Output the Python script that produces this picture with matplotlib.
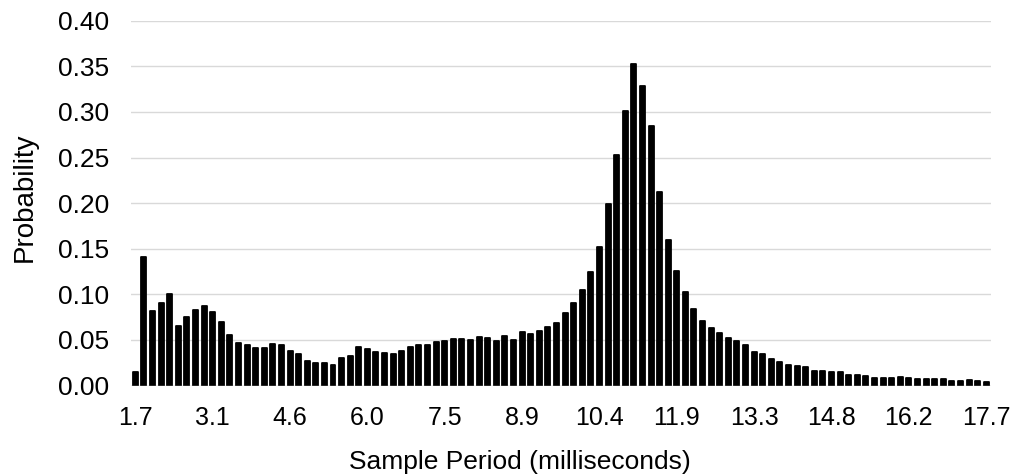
import numpy as np
import matplotlib.pyplot as plt

plt.rcParams['font.family'] = ['Liberation Sans', 'DejaVu Sans']

# probability per sample-period bin (100 bins, 1.7 ms .. 17.7 ms)
probability = [
    0.015, 0.141, 0.082, 0.091, 0.100, 0.065, 0.075, 0.083, 0.087, 0.081,
    0.070, 0.055, 0.047, 0.044, 0.041, 0.041, 0.045, 0.044, 0.038, 0.035,
    0.027, 0.025, 0.025, 0.023, 0.030, 0.032, 0.042, 0.040, 0.037, 0.036,
    0.035, 0.038, 0.042, 0.044, 0.044, 0.048, 0.049, 0.051, 0.051, 0.050,
    0.053, 0.052, 0.049, 0.054, 0.050, 0.059, 0.056, 0.060, 0.064, 0.068,
    0.079, 0.090, 0.105, 0.125, 0.152, 0.199, 0.253, 0.301, 0.352, 0.328,
    0.285, 0.212, 0.160, 0.126, 0.103, 0.084, 0.071, 0.063, 0.058, 0.052,
    0.049, 0.044, 0.037, 0.035, 0.029, 0.026, 0.023, 0.021, 0.020, 0.016,
    0.016, 0.015, 0.015, 0.012, 0.012, 0.010, 0.008, 0.008, 0.008, 0.009,
    0.008, 0.007, 0.007, 0.007, 0.007, 0.005, 0.005, 0.006, 0.005, 0.004,
]
tick_labels = ['1.7', '3.1', '4.6', '6.0', '7.5', '8.9', '10.4',
               '11.9', '13.3', '14.8', '16.2', '17.7']
label_every = 9
y_ticks = [0.00, 0.05, 0.10, 0.15, 0.20, 0.25, 0.30, 0.35, 0.40]

x = np.arange(len(probability))

fig = plt.figure(figsize=(10.18, 4.74), dpi=100)
ax = fig.add_axes([0.1287, 0.1867, 0.8443, 0.7696])

bars = ax.bar(x, probability, width=0.58, color='black', edgecolor='black',
              linewidth=1.3, zorder=2)
for b in bars:
    b.set_joinstyle('round')
ax.axhline(0, color='#d0d0d0', linewidth=1.0, zorder=3)

ax.set_xlim(-0.5, len(probability) - 0.5)
ax.set_ylim(0, 0.40)
ax.set_yticks(y_ticks)
ax.set_yticklabels([f'{v:.2f}' for v in y_ticks], fontsize=19)
ax.set_xticks(x[::label_every])
ax.set_xticklabels(tick_labels, fontsize=18)
ax.tick_params(axis='x', length=0, pad=15)
ax.tick_params(axis='y', length=0, pad=16)
ax.grid(axis='y', color='#d9d9d9', linewidth=1.0, zorder=0)
ax.set_axisbelow(True)
for s in ax.spines.values():
    s.set_visible(False)

fig.text(520 / 1018, 1 - 462 / 474, 'Sample Period (milliseconds)', fontsize=19,
         ha='center', va='center')
fig.text(25 / 1018, 1 - 197 / 474, 'Probability', fontsize=20, rotation=90,
         ha='center', va='center')

fig.savefig('out.png', dpi=100)
